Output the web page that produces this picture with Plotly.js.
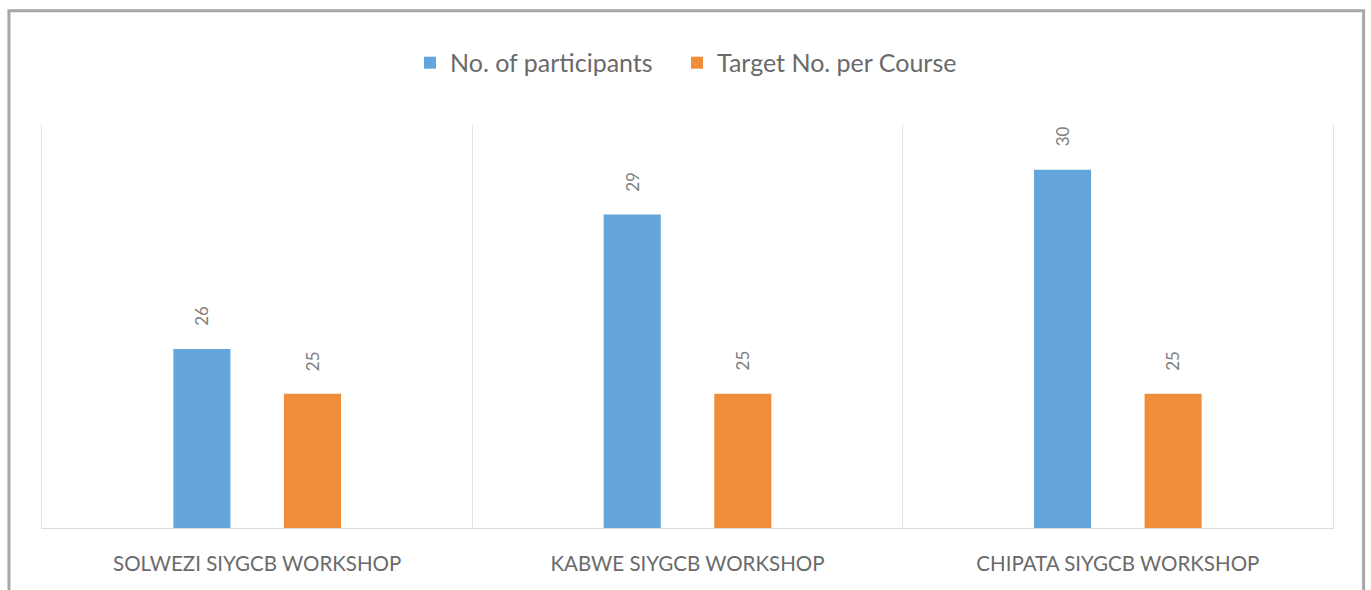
<!DOCTYPE html>
<html>
<head>
<meta charset="utf-8">
<script src="https://cdn.plot.ly/plotly-3.0.1.min.js"></script>
<style>
html,body{margin:0;padding:0;background:#fff;}
#chart{width:1371px;height:590px;}
</style>
</head>
<body>
<div id="chart"></div>
<script>
const categories = ["SOLWEZI SIYGCB WORKSHOP", "KABWE SIYGCB WORKSHOP", "CHIPATA SIYGCB WORKSHOP"];
const seriesNames = ["No. of participants", "Target No. per Course"];
const participants = [26, 29, 30];
const target = [25, 25, 25];

const colors = ["#64a5db", "#f08d3b"];
const seriesValues = [participants, target];
const FONT = "Lato, 'Open Sans', sans-serif";
const legendIds = ["legend", "legend2"];

const traces = seriesValues.map((vals, i) => ({
  type: "bar",
  name: seriesNames[i],
  x: categories,
  y: vals,
  marker: {color: colors[i]},
  legend: legendIds[i],
  hoverinfo: "skip"
}));

const bargap = 0.486, bargroupgap = 0.484;
const slot = (1 - bargap) / seriesValues.length;
const annotations = [];
seriesValues.forEach((vals, s) => {
  const off = (s - (seriesValues.length - 1) / 2) * slot;
  vals.forEach((v, c) => {
    annotations.push({
      x: c + off, y: v, xref: "x", yref: "y",
      text: String(v), showarrow: false, textangle: -90,
      xanchor: "center", yanchor: "middle", yshift: 33,
      font: {family: FONT, size: 17, color: "#7f7f7f"}
    });
  });
});

function legendAt(px) {
  return {
    orientation: "h", x: (px - 42) / 1291, xanchor: "left", y: 1.154, yanchor: "middle",
    font: {family: FONT, size: 25, color: "#6a6a6a"},
    itemwidth: 30, bgcolor: "rgba(0,0,0,0)"
  };
}

const layout = {
  width: 1371, height: 590,
  margin: {l: 42, r: 38, t: 125, b: 62},
  paper_bgcolor: "#ffffff",
  plot_bgcolor: "#ffffff",
  barmode: "group",
  bargap: bargap,
  bargroupgap: bargroupgap,
  showlegend: true,
  legend: legendAt(410),
  legend2: legendAt(677),
  xaxis: {
    type: "category",
    range: [-0.5, 2.5],
    tickson: "boundaries",
    showgrid: true, gridcolor: "#e3e3e3", gridwidth: 1,
    showline: true, linecolor: "#dcdcdc", linewidth: 1,
    ticks: "", ticklabelstandoff: 17,
    tickfont: {family: FONT, size: 20.5, color: "#6a6a6a"},
    zeroline: false, fixedrange: true
  },
  yaxis: {
    range: [22, 31],
    showgrid: false, showticklabels: false, ticks: "",
    showline: true, mirror: true, linecolor: "#e3e3e3", linewidth: 1,
    zeroline: false, fixedrange: true
  },
  annotations: annotations,
  shapes: [{
    type: "path", xref: "paper", yref: "paper",
    path: "M -0.0256,-0.2 L -0.0256,1.2835 L 1.0237,1.2835 L 1.0237,-0.2",
    line: {color: "#a8a8a8", width: 3}
  }]
};

Plotly.newPlot("chart", traces, layout, {staticPlot: true, displayModeBar: false});
</script>
</body>
</html>
